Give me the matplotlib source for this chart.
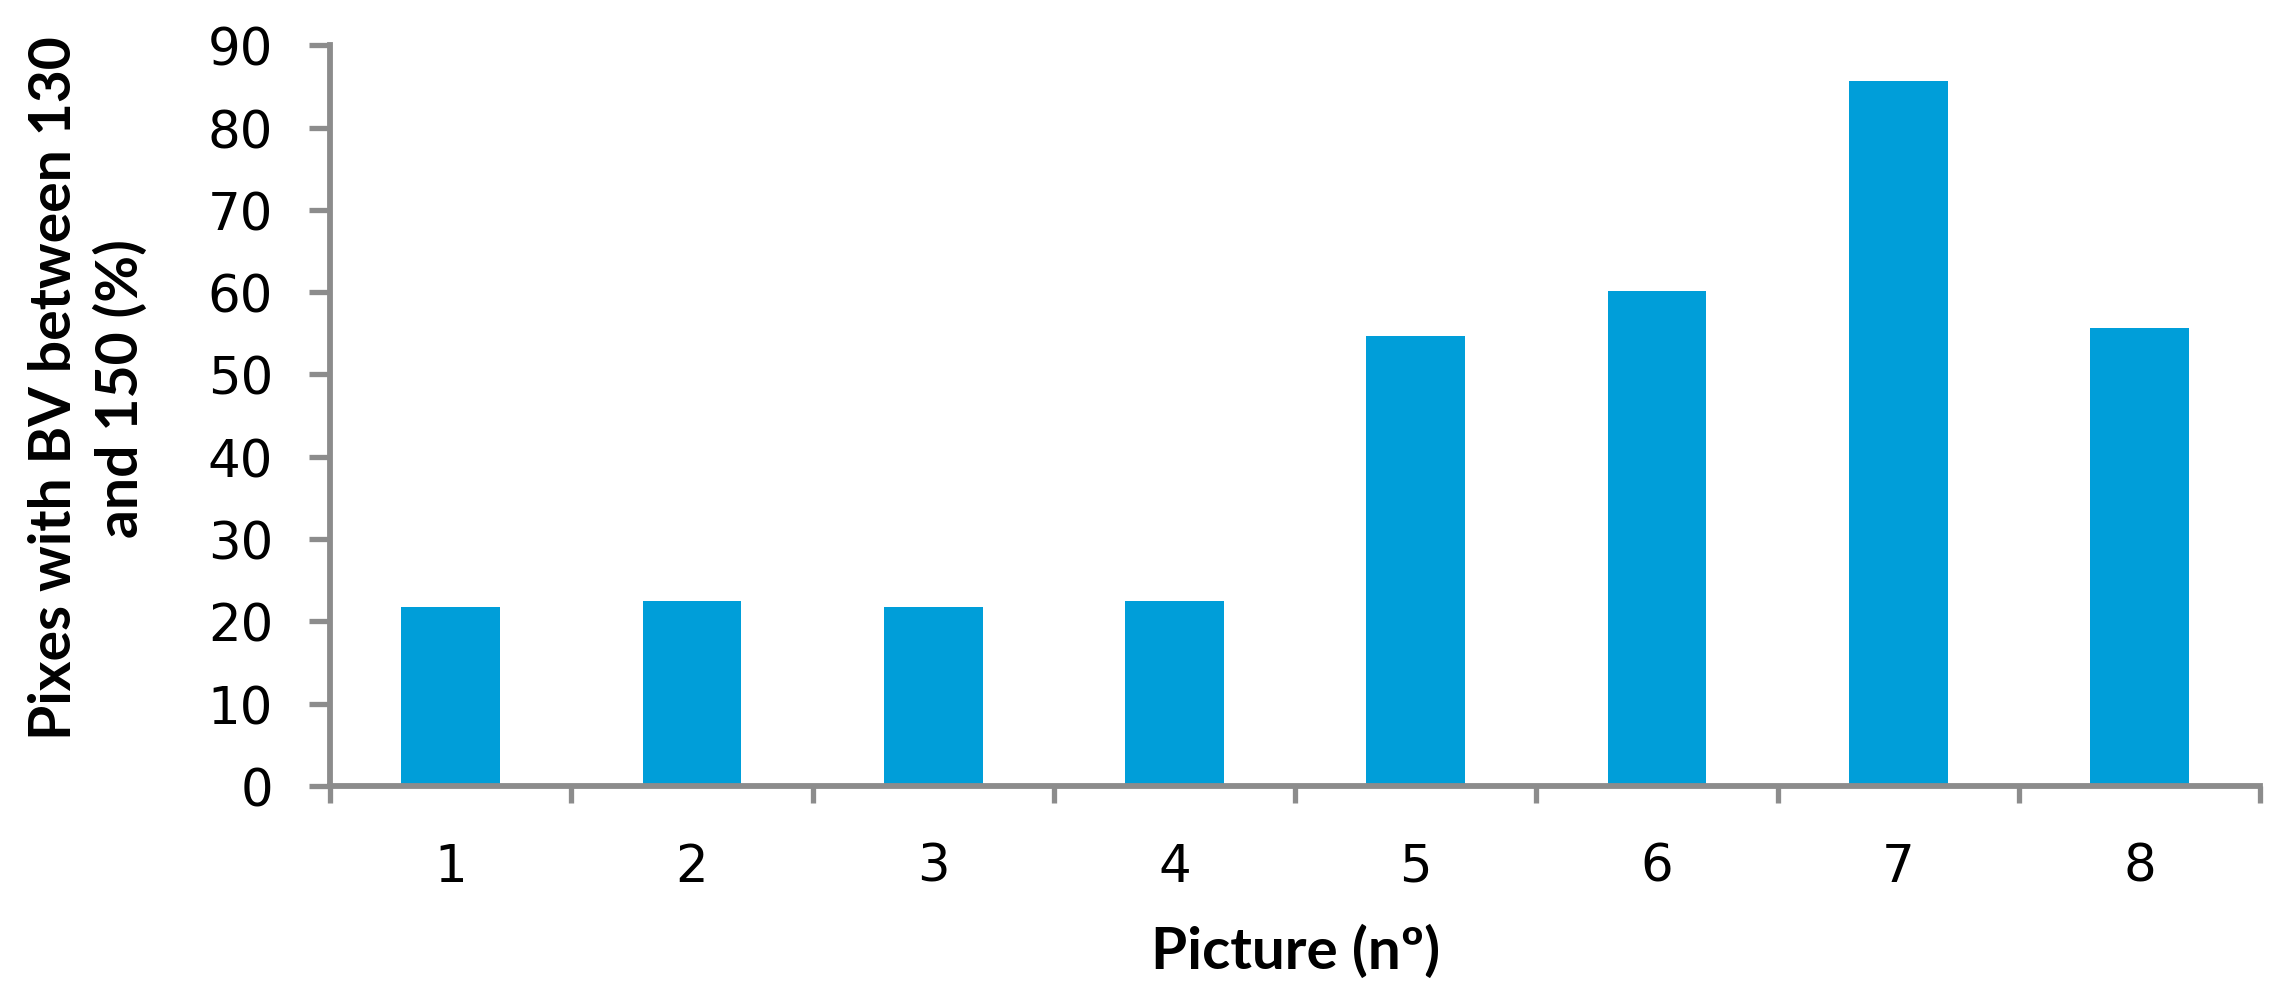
import matplotlib.pyplot as plt
import numpy as np

pictures = ["1", "2", "3", "4", "5", "6", "7", "8"]
pixels_pct = [21.8, 22.5, 21.8, 22.5, 54.7, 60.1, 85.6, 55.7]

bar_color = "#009ED9"
axis_color = "#8C8C8C"

fig = plt.figure(figsize=(22.83, 10.04), dpi=100)
ax = fig.add_axes([0.1446, 0.216, 0.8454, 0.738])

x = np.arange(len(pictures))
ax.bar(x, pixels_pct, width=0.41, color=bar_color, zorder=2)

ax.set_xlim(-0.5, len(pictures) - 0.5)
ax.set_ylim(0, 90)
ax.set_yticks(np.arange(0, 91, 10))

# category labels centred on bars, ticks between categories
ax.set_xticks(x)
ax.set_xticklabels(pictures)
ax.set_xticks(np.arange(-0.5, len(pictures)), minor=True)
ax.tick_params(axis="x", which="major", length=0, pad=40, labelsize=37)
ax.tick_params(axis="x", which="minor", length=12, width=3.8, color=axis_color, direction="out")
ax.tick_params(axis="y", length=15, width=3.8, color=axis_color, pad=26, labelsize=37)

for s in ["top", "right"]:
    ax.spines[s].set_visible(False)
for s in ["left", "bottom"]:
    ax.spines[s].set_color(axis_color)
    ax.spines[s].set_linewidth(4.2)

ax.set_xlabel("Picture (nº)", fontsize=42, fontweight="bold", family="Lato", va="center")
ax.xaxis.set_label_coords(0.5, -0.2227)
ax.set_ylabel("Pixes with BV between 130\nand 150 (%)", fontsize=41, fontweight="bold",
              family="Lato", linespacing=1.3, va="center")
ax.yaxis.set_label_coords(-0.1254, 0.538)

fig.savefig("out.png", dpi=100)
